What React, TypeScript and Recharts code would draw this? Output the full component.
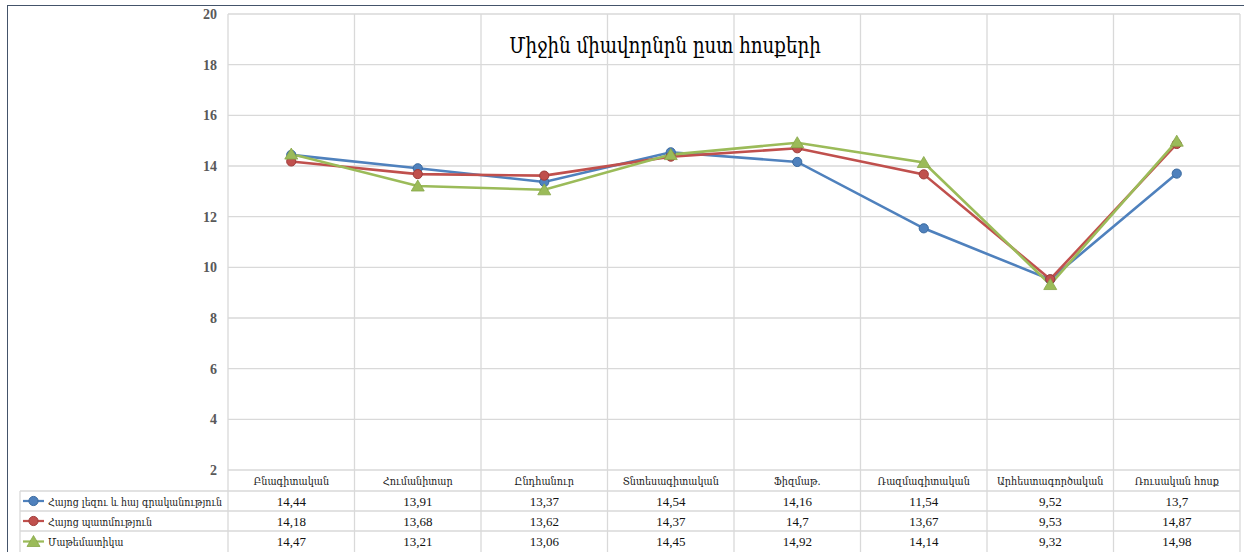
import { LineChart, Line, XAxis, YAxis, CartesianGrid } from "recharts";

const CATEGORIES = [
  "Բնագիտական",
  "Հումանիտար",
  "Ընդհանուր",
  "Տնտեսագիտական",
  "Ֆիզմաթ.",
  "Ռազմագիտական",
  "Արհեստագործական",
  "Ռուսական հոսք",
];

const LANG_LIT = [14.44, 13.91, 13.37, 14.54, 14.16, 11.54, 9.52, 13.7];
const HISTORY = [14.18, 13.68, 13.62, 14.37, 14.7, 13.67, 9.53, 14.87];
const MATH = [14.47, 13.21, 13.06, 14.45, 14.92, 14.14, 9.32, 14.98];

const Y_TICKS = [2, 4, 6, 8, 10, 12, 14, 16, 18, 20];

const TITLE = "Միջին միավորնրն ըստ հոսքերի";

const SERIES = [
  { key: "lang", name: "Հայոց լեզու և հայ գրականություն", values: LANG_LIT, color: "#4F81BD", edge: "#3A6A9F", marker: "circle" },
  { key: "hist", name: "Հայոց պատմություն", values: HISTORY, color: "#C0504D", edge: "#9E3C3A", marker: "circle" },
  { key: "math", name: "Մաթեմատիկա", values: MATH, color: "#9BBB59", edge: "#86A648", marker: "triangle" },
];

const data = CATEGORIES.map((cat, i) => {
  const row: Record<string, string | number> = { cat };
  SERIES.forEach((s) => (row[s.key] = s.values[i]));
  return row;
});

// layout
const W = 1244;
const H = 552;
const PLOT_LEFT = 228;
const PLOT_RIGHT = 1240;
const PLOT_TOP = 14;
const PLOT_BOTTOM = 470;
const STEP = (PLOT_RIGHT - PLOT_LEFT) / CATEGORIES.length;
const Y_AXIS_W = 50;
const ROW_Y = [0, 21, 41, 61, 82]; // table row edges below the plot
const LEGEND_LEFT = 20;
const GRID = "#d9d9d9";
const ARM_FONT = "'DejaVu Serif', serif";
const NUM_FONT = "'Liberation Serif', 'DejaVu Serif', serif";

const fmt = (v: number) => String(v).replace(".", ",");

function Marker({ cx, cy, s }: { cx: number; cy: number; s: (typeof SERIES)[number] }) {
  if (s.marker === "triangle") {
    return (
      <path
        d={`M${cx},${cy - 6} L${cx + 6.5},${cy + 5} L${cx - 6.5},${cy + 5} Z`}
        fill={s.color}
        stroke={s.edge}
        strokeWidth={0.8}
      />
    );
  }
  return <circle cx={cx} cy={cy} r={4.6} fill={s.color} stroke={s.edge} strokeWidth={1} />;
}

function TableTick(props: any) {
  const { x, y, payload } = props;
  const i = payload.index;
  const left = x - STEP / 2;
  const right = x + STEP / 2;
  return (
    <g>
      {ROW_Y.slice(1, 4).map((ry) => (
        <line key={ry} x1={left} x2={right} y1={y + ry} y2={y + ry} stroke={GRID} strokeWidth={1.3} />
      ))}
      <line x1={right} x2={right} y1={y} y2={y + 82} stroke={GRID} strokeWidth={1.3} />
      {i === 0 && <line x1={left} x2={left} y1={y} y2={y + 82} stroke={GRID} strokeWidth={1.3} />}
      <text
        transform={`translate(${x},${y + 15}) scale(0.88,1)`}
        textAnchor="middle"
        fontFamily={ARM_FONT}
        fontSize={11}
        fill="#1a1a1a"
      >
        {payload.value}
      </text>
      {SERIES.map((s, r) => (
        <text
          key={s.key}
          x={x}
          y={y + ROW_Y[r + 1] + 15}
          textAnchor="middle"
          fontFamily={NUM_FONT}
          fontSize={13}
          fill="#111"
        >
          {fmt(s.values[i])}
        </text>
      ))}
      {i === 0 && (
        <g>
          <line x1={LEGEND_LEFT} x2={left} y1={y + ROW_Y[1]} y2={y + ROW_Y[1]} stroke={GRID} strokeWidth={1.3} />
          <line x1={LEGEND_LEFT} x2={left} y1={y + ROW_Y[2]} y2={y + ROW_Y[2]} stroke={GRID} strokeWidth={1.3} />
          <line x1={LEGEND_LEFT} x2={left} y1={y + ROW_Y[3]} y2={y + ROW_Y[3]} stroke={GRID} strokeWidth={1.3} />
          <line x1={LEGEND_LEFT} x2={LEGEND_LEFT} y1={y + ROW_Y[1]} y2={y + 82} stroke={GRID} strokeWidth={1.3} />
          {SERIES.map((s, r) => {
            const cy = y + (ROW_Y[r + 1] + ROW_Y[r + 2]) / 2;
            return (
              <g key={s.key}>
                <line x1={23} x2={44} y1={cy} y2={cy} stroke={s.color} strokeWidth={2.25} />
                <Marker cx={33.5} cy={cy} s={s} />
                <text
                  transform={`translate(48,${cy + 4.5}) scale(0.82,1)`}
                  fontFamily={ARM_FONT}
                  fontSize={11.5}
                  fill="#1a1a1a"
                >
                  {s.name}
                </text>
              </g>
            );
          })}
        </g>
      )}
    </g>
  );
}

export default function App() {
  const verticals = CATEGORIES.map((_, i) => PLOT_LEFT + i * STEP).concat(PLOT_RIGHT);
  return (
    <div style={{ position: "absolute", left: 0, top: 0, width: W, height: H, background: "#fff", overflow: "hidden" }}>
      <div
        style={{
          position: "absolute",
          left: 7,
          top: 5,
          width: W + 20,
          height: H + 20,
          border: "1.5px solid #44546A",
          boxSizing: "border-box",
        }}
      />
      <LineChart
        width={W}
        height={H}
        data={data}
        margin={{ top: PLOT_TOP, right: W - PLOT_RIGHT, bottom: 0, left: PLOT_LEFT - Y_AXIS_W }}
        style={{ position: "absolute", left: 0, top: 0 }}
      >
        <CartesianGrid stroke={GRID} strokeWidth={1.3} verticalPoints={verticals} />
        <XAxis
          dataKey="cat"
          interval={0}
          axisLine={false}
          tickLine={false}
          tickSize={0}
          tickMargin={0}
          height={H - PLOT_BOTTOM}
          padding={{ left: STEP / 2, right: STEP / 2 }}
          tick={(p: any) => <TableTick {...p} />}
        />
        <YAxis
          domain={[2, 20]}
          ticks={Y_TICKS}
          interval={0}
          width={Y_AXIS_W}
          axisLine={false}
          tickLine={false}
          tickSize={0}
          tickMargin={11}
          tick={{ fontFamily: NUM_FONT, fontSize: 14, fontWeight: 700, fill: "#595959" }}
        />
        {SERIES.map((s) => (
          <Line
            key={s.key}
            dataKey={s.key}
            name={s.name}
            type="linear"
            stroke={s.color}
            strokeWidth={2.6}
            isAnimationActive={false}
            dot={(p: any) => <Marker key={`${s.key}-${p.index}`} cx={p.cx} cy={p.cy} s={s} />}
            activeDot={false}
          />
        ))}
      </LineChart>
      <div
        style={{
          position: "absolute",
          left: 415,
          top: 29,
          width: 500,
          textAlign: "center",
          fontFamily: ARM_FONT,
          fontSize: 22,
          lineHeight: "34px",
          color: "#000",
          transform: "scaleX(0.83)",
        }}
      >
        {TITLE}
      </div>
    </div>
  );
}
